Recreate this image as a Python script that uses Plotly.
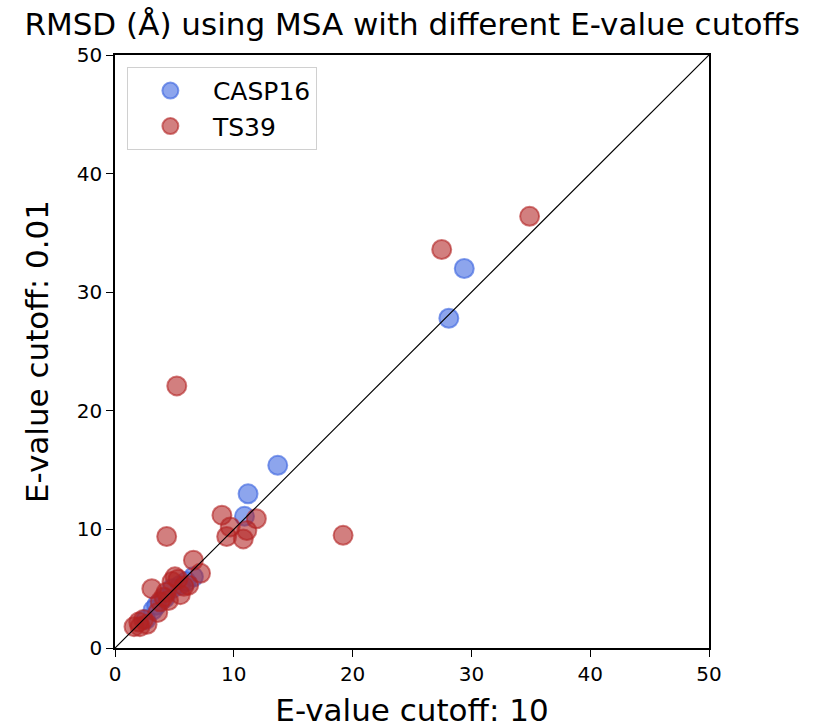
import plotly.graph_objects as go

casp16_x = [29.4, 28.1, 13.7, 11.2, 10.9, 6.6, 5.5, 4.8, 4.2, 3.5, 3.2, 2.6, 6.0]
casp16_y = [32.0, 27.8, 15.4, 13.0, 11.1, 6.0, 5.3, 5.0, 4.2, 3.6, 3.2, 2.4, 5.6]

ts39_x = [34.9, 27.5, 5.2, 19.2, 4.35, 9.0, 11.9, 9.7, 9.4, 10.8, 11.1, 6.6, 7.2, 5.05, 3.1,
          5.5, 6.2, 4.1, 4.5, 4.8, 5.3, 3.8, 2.4, 2.1, 2.7, 1.6, 2.0, 3.6, 5.8, 4.3]
ts39_y = [36.4, 33.6, 22.1, 9.5, 9.4, 11.2, 10.9, 10.2, 9.4, 9.2, 9.9, 7.4, 6.3, 6.0, 5.0,
          4.5, 5.3, 4.3, 4.0, 5.6, 5.8, 3.9, 2.4, 1.8, 2.0, 1.8, 2.2, 3.0, 5.2, 4.7]

diag = [0, 50]
ticks = [0, 10, 20, 30, 40, 50]

fig = go.Figure()
fig.add_trace(go.Scatter(
    x=casp16_x, y=casp16_y, mode="markers", name="CASP16",
    marker=dict(size=19, color="rgba(65,105,225,0.6)",
                line=dict(color="rgba(65,105,225,0.65)", width=2)),
))
fig.add_trace(go.Scatter(
    x=ts39_x, y=ts39_y, mode="markers", name="TS39",
    marker=dict(size=19, color="rgba(178,34,34,0.58)",
                line=dict(color="rgba(178,34,34,0.6)", width=2)),
))
fig.add_trace(go.Scatter(
    x=diag, y=diag, mode="lines", showlegend=False,
    line=dict(color="black", width=1.2), hoverinfo="skip",
))

axis_common = dict(
    range=[0, 50], tickvals=ticks, showgrid=False, zeroline=False,
    showline=True, linecolor="black", linewidth=1.5, mirror=True,
    ticks="outside", ticklen=7, tickwidth=1.2, tickcolor="black",
    tickfont=dict(size=20, color="black"), automargin=False,
)

fig.update_layout(
    width=817, height=728,
    margin=dict(l=115, r=108, t=55, b=80),
    paper_bgcolor="white", plot_bgcolor="white",
    font=dict(family="DejaVu Sans", color="black"),
    title=dict(text="RMSD (Å) using MSA with different E-value cutoffs",
               x=0.5045, xanchor="center", y=0.967, yanchor="middle",
               font=dict(size=31, color="black")),
    xaxis=dict(**axis_common, title=dict(text="E-value cutoff: 10", font=dict(size=31), standoff=15)),
    yaxis=dict(**axis_common, title=dict(text="E-value cutoff: 0.01", font=dict(size=31), standoff=19)),
    legend=dict(x=0.02, y=0.98, xanchor="left", yanchor="top",
                bgcolor="white", bordercolor="#d0d0d0", borderwidth=1,
                font=dict(size=25, color="black"), itemwidth=75,
                tracegroupgap=4),
    showlegend=True,
)

fig.write_html("out.html")
